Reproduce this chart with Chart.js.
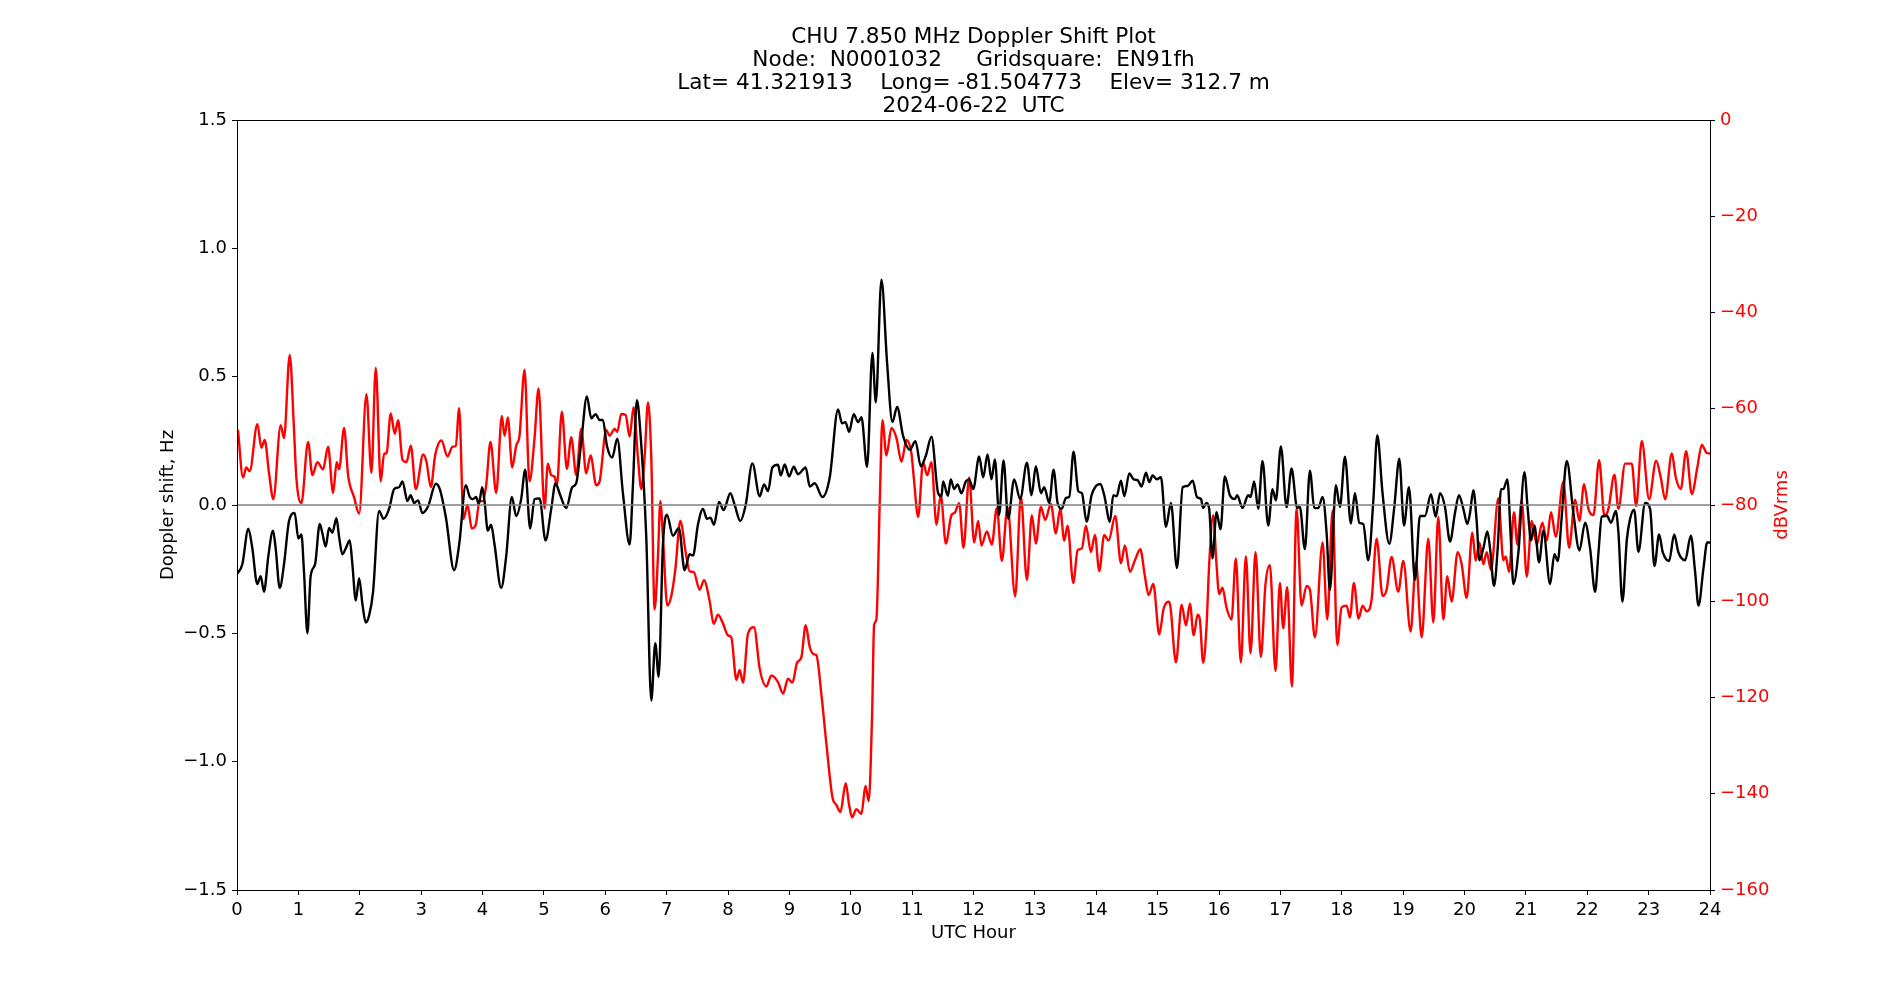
<!DOCTYPE html>
<html>
<head>
<meta charset="utf-8">
<script src="https://cdn.jsdelivr.net/npm/chart.js@4/dist/chart.umd.min.js"></script>
<style>
html,body{margin:0;padding:0;background:#fff;}
#wrap{width:1900px;height:1000px;}
</style>
</head>
<body>
<div id="wrap"><canvas id="c" width="1900" height="1000"></canvas></div>
<script>
const titleLines = [
  'CHU 7.850 MHz Doppler Shift Plot',
  'Node:  N0001032     Gridsquare:  EN91fh',
  'Lat= 41.321913    Long= -81.504773    Elev= 312.7 m',
  '2024-06-22  UTC'
];
const xLabel = 'UTC Hour';
const yLeftLabel = 'Doppler shift, Hz';
const yRightLabel = 'dBVrms';

const dopplerHours = [0.0,0.087,0.185,0.25,0.33,0.386,0.44,0.51,0.587,0.63,0.696,0.766,0.848,0.94,1.0,1.049,1.092,1.147,1.2,1.272,1.348,1.39,1.446,1.5,1.554,1.62,1.663,1.717,1.772,1.837,1.88,1.935,1.99,2.043,2.098,2.152,2.217,2.315,2.386,2.478,2.56,2.64,2.696,2.777,2.83,2.886,2.95,3.02,3.114,3.24,3.304,3.402,3.538,3.62,3.728,3.793,3.842,3.897,3.94,3.995,4.033,4.087,4.14,4.196,4.304,4.386,4.478,4.549,4.63,4.696,4.777,4.848,4.93,5.027,5.12,5.19,5.255,5.364,5.462,5.527,5.609,5.701,5.772,5.842,5.908,5.962,6.027,6.114,6.196,6.288,6.397,6.451,6.516,6.57,6.668,6.75,6.815,6.87,6.94,7.005,7.103,7.2,7.293,7.375,7.43,7.51,7.592,7.658,7.712,7.772,7.853,7.929,8.038,8.109,8.2,8.288,8.397,8.516,8.587,8.652,8.723,8.815,8.859,8.924,8.995,9.071,9.141,9.266,9.332,9.413,9.538,9.658,9.793,9.859,9.913,9.973,10.049,10.12,10.174,10.266,10.353,10.408,10.5,10.592,10.679,10.755,10.853,10.962,11.054,11.141,11.223,11.315,11.424,11.478,11.505,11.582,11.63,11.685,11.739,11.804,11.875,11.929,11.995,12.092,12.158,12.228,12.293,12.348,12.418,12.489,12.565,12.663,12.761,12.87,12.946,13.016,13.098,13.152,13.234,13.304,13.37,13.44,13.505,13.56,13.63,13.707,13.766,13.842,13.924,13.995,14.065,14.13,14.223,14.277,14.332,14.402,14.457,14.538,14.609,14.674,14.739,14.81,14.864,14.918,14.989,15.054,15.136,15.217,15.315,15.408,15.489,15.571,15.641,15.707,15.742,15.796,15.84,15.894,15.959,16.024,16.095,16.177,16.258,16.296,16.383,16.476,16.514,16.573,16.639,16.709,16.802,16.872,16.927,17.008,17.101,17.182,17.274,17.318,17.399,17.481,17.552,17.617,17.688,17.753,17.807,17.905,17.97,18.052,18.149,18.215,18.285,18.35,18.432,18.514,18.579,18.666,18.774,18.856,18.938,19.014,19.095,19.193,19.274,19.356,19.454,19.53,19.601,19.682,19.764,19.845,19.91,19.981,20.046,20.09,20.144,20.198,20.242,20.307,20.372,20.416,20.481,20.541,20.595,20.633,20.698,20.753,20.796,20.878,20.976,21.03,21.084,21.139,21.215,21.285,21.394,21.465,21.519,21.584,21.666,21.774,21.872,21.965,22.046,22.128,22.183,22.236,22.318,22.389,22.465,22.508,22.573,22.644,22.698,22.764,22.834,22.943,23.024,23.095,23.171,23.231,23.334,23.416,23.486,23.595,23.688,23.758,23.812,23.894,23.954,24.0];
const dopplerHz = [-0.269,-0.231,-0.092,-0.169,-0.308,-0.277,-0.338,-0.2,-0.1,-0.169,-0.323,-0.231,-0.062,-0.031,-0.131,-0.115,-0.262,-0.5,-0.277,-0.231,-0.074,-0.108,-0.162,-0.089,-0.108,-0.051,-0.123,-0.192,-0.169,-0.138,-0.231,-0.372,-0.285,-0.385,-0.458,-0.431,-0.338,-0.023,-0.054,-0.015,0.062,0.069,0.092,0.015,0.038,0.008,0.018,-0.031,-0.005,0.083,0.062,-0.046,-0.254,-0.154,0.077,0.031,0.023,0.031,0.003,0.069,0.015,-0.1,-0.077,-0.154,-0.323,-0.2,0.031,-0.043,0.023,0.138,-0.092,0.023,0.026,-0.138,-0.015,0.085,0.046,-0.012,0.069,0.085,0.246,0.423,0.338,0.354,0.331,0.331,0.231,0.185,0.258,0.046,-0.154,0.077,0.408,0.292,-0.123,-0.762,-0.538,-0.669,-0.154,-0.038,-0.12,-0.089,-0.254,-0.192,-0.197,-0.077,-0.015,-0.054,-0.049,-0.077,0.012,-0.02,0.046,0.0,-0.062,0.0,0.162,0.034,0.08,0.054,0.146,0.157,0.115,0.158,0.112,0.149,0.12,0.146,0.072,0.085,0.031,0.108,0.372,0.318,0.323,0.285,0.354,0.323,0.342,0.149,0.592,0.4,0.878,0.554,0.323,0.382,0.269,0.215,0.249,0.151,0.192,0.266,0.046,0.034,0.092,0.036,0.1,0.062,0.08,0.046,0.092,0.1,0.062,0.189,0.108,0.197,0.1,0.177,-0.038,0.174,-0.054,0.1,0.023,0.165,0.038,0.151,0.046,0.069,0.008,0.138,0.008,-0.015,0.028,0.031,0.208,0.054,0.046,-0.065,0.038,0.074,0.082,0.038,-0.065,0.038,0.034,0.095,0.034,0.123,0.1,0.097,0.072,0.126,0.089,0.115,0.1,0.108,-0.085,0.008,-0.246,0.069,0.074,0.095,0.031,0.023,-0.012,0.008,-0.015,-0.208,-0.028,-0.095,0.111,0.038,0.023,0.038,-0.012,0.038,0.031,0.092,-0.015,0.172,-0.08,0.062,0.018,0.228,-0.008,0.142,-0.012,-0.008,-0.172,0.134,-0.011,-0.012,0.031,-0.108,-0.331,0.077,-0.008,0.188,-0.072,0.046,-0.069,-0.074,-0.215,0.015,0.272,0.042,-0.151,-0.008,0.18,-0.08,0.069,-0.292,-0.043,-0.043,0.042,-0.046,0.046,-0.008,-0.142,-0.031,0.038,-0.015,-0.074,-0.031,0.058,-0.062,-0.215,-0.169,-0.103,-0.169,-0.315,-0.169,0.062,0.062,0.1,-0.123,-0.308,-0.185,0.128,-0.015,-0.138,-0.08,-0.223,-0.1,-0.308,-0.192,-0.218,-0.046,0.172,-0.031,-0.177,-0.069,-0.169,-0.338,-0.185,-0.046,-0.042,-0.069,-0.023,-0.108,-0.377,-0.138,-0.054,-0.018,-0.182,0.008,-0.015,-0.238,-0.115,-0.185,-0.218,-0.115,-0.185,-0.215,-0.12,-0.262,-0.392,-0.246,-0.146,-0.146];

const powerHours = [0.016,0.098,0.152,0.207,0.332,0.397,0.451,0.522,0.592,0.712,0.766,0.859,0.929,0.967,1.049,1.158,1.228,1.31,1.402,1.484,1.565,1.625,1.663,1.745,1.81,1.908,1.99,2.109,2.19,2.261,2.342,2.397,2.435,2.505,2.571,2.625,2.696,2.761,2.832,2.913,3.033,3.087,3.158,3.228,3.332,3.429,3.511,3.565,3.62,3.69,3.755,3.826,3.891,3.951,4.005,4.06,4.13,4.223,4.315,4.359,4.413,4.484,4.549,4.603,4.685,4.766,4.848,4.913,5.011,5.065,5.12,5.174,5.212,5.293,5.375,5.446,5.527,5.609,5.69,5.761,5.853,5.908,6.016,6.071,6.152,6.196,6.261,6.332,6.397,6.462,6.533,6.587,6.641,6.696,6.75,6.804,6.859,6.897,6.94,7.011,7.076,7.141,7.223,7.31,7.375,7.44,7.538,7.609,7.701,7.766,7.837,7.918,8.0,8.054,8.136,8.19,8.245,8.326,8.424,8.516,8.625,8.707,8.815,8.897,8.978,9.049,9.125,9.196,9.266,9.332,9.397,9.44,9.522,9.603,9.701,9.766,9.832,9.918,9.973,10.022,10.092,10.174,10.239,10.293,10.348,10.38,10.418,10.473,10.516,10.582,10.663,10.745,10.826,10.908,10.989,11.027,11.098,11.179,11.245,11.315,11.397,11.467,11.549,11.641,11.696,11.766,11.837,11.929,12.011,12.076,12.13,12.217,12.299,12.38,12.462,12.554,12.679,12.772,12.87,12.951,13.016,13.098,13.168,13.261,13.342,13.413,13.478,13.533,13.625,13.696,13.766,13.832,13.913,13.978,14.049,14.13,14.201,14.31,14.402,14.467,14.549,14.63,14.717,14.793,14.853,14.929,15.027,15.098,15.19,15.299,15.391,15.462,15.527,15.587,15.652,15.688,15.742,15.796,15.84,15.905,15.959,16.003,16.057,16.122,16.204,16.274,16.356,16.438,16.514,16.595,16.682,16.758,16.829,16.921,16.992,17.046,17.111,17.188,17.264,17.345,17.427,17.481,17.563,17.688,17.764,17.851,17.927,17.997,18.079,18.133,18.198,18.274,18.34,18.405,18.486,18.568,18.666,18.731,18.812,18.921,19.003,19.122,19.209,19.302,19.41,19.492,19.573,19.655,19.72,19.79,19.889,19.954,20.035,20.128,20.182,20.242,20.307,20.361,20.432,20.552,20.633,20.671,20.726,20.807,20.861,20.932,21.014,21.095,21.177,21.269,21.34,21.41,21.486,21.611,21.704,21.802,21.872,21.948,22.019,22.101,22.193,22.28,22.345,22.443,22.508,22.617,22.726,22.796,22.889,23.008,23.122,23.198,23.269,23.378,23.443,23.524,23.611,23.704,23.796,23.867,23.948,24.0];
const powerDb = [-64.4,-74.3,-72.2,-73.0,-63.2,-68.1,-66.5,-73.4,-78.8,-63.4,-66.1,-48.8,-64.4,-74.3,-79.6,-66.9,-73.8,-71.1,-72.6,-67.9,-77.5,-71.1,-72.6,-64.0,-73.8,-78.4,-81.8,-57.0,-73.3,-51.5,-75.1,-69.3,-69.3,-61.0,-65.2,-62.4,-70.6,-71.1,-67.7,-76.7,-69.5,-71.0,-76.3,-69.7,-66.6,-69.9,-67.9,-67.7,-59.9,-82.9,-80.0,-84.9,-84.1,-79.2,-79.2,-75.9,-66.9,-77.5,-61.5,-65.6,-61.8,-72.2,-67.7,-65.6,-51.9,-75.1,-66.1,-55.8,-80.7,-71.4,-73.8,-74.1,-75.9,-60.6,-72.5,-65.9,-73.8,-64.2,-73.4,-69.7,-75.9,-75.1,-64.4,-65.6,-64.2,-64.8,-61.1,-61.3,-65.8,-59.7,-70.2,-76.7,-70.2,-58.7,-70.2,-101.7,-90.7,-79.2,-86.6,-100.9,-98.9,-93.5,-83.3,-89.8,-93.8,-93.9,-97.6,-95.6,-100.0,-104.7,-102.8,-104.6,-107.1,-107.5,-116.3,-114.3,-116.9,-106.7,-105.4,-114.0,-117.7,-115.4,-116.8,-119.2,-116.1,-116.9,-112.8,-111.6,-105.0,-109.5,-111.0,-111.2,-119.4,-129.6,-140.7,-142.3,-143.8,-137.8,-142.3,-144.9,-143.2,-144.2,-138.4,-141.5,-123.5,-105.0,-103.8,-79.2,-62.4,-69.7,-64.0,-66.1,-71.0,-66.5,-69.3,-74.3,-82.5,-71.1,-73.8,-71.1,-84.1,-77.9,-88.0,-82.1,-81.6,-79.6,-88.9,-74.3,-87.8,-83.3,-88.4,-85.5,-88.2,-80.6,-91.6,-80.4,-99.0,-78.2,-95.6,-82.1,-88.0,-80.4,-83.1,-79.8,-85.9,-80.8,-87.4,-84.3,-96.2,-89.4,-89.0,-84.3,-89.8,-86.2,-93.7,-86.2,-87.4,-82.3,-92.1,-88.4,-93.9,-91.5,-89.2,-94.8,-98.7,-96.4,-106.9,-101.5,-100.1,-112.7,-100.7,-105.0,-100.5,-107.1,-102.8,-103.8,-112.8,-105.4,-92.3,-82.1,-92.3,-98.5,-97.2,-101.3,-103.8,-91.1,-112.7,-90.7,-110.8,-89.8,-111.6,-96.4,-92.5,-114.5,-96.2,-105.6,-97.1,-117.7,-80.8,-100.9,-96.8,-97.6,-107.5,-87.8,-103.8,-81.2,-109.1,-101.3,-100.9,-103.4,-96.2,-103.6,-100.9,-102.1,-99.7,-87.0,-98.9,-97.6,-90.8,-98.0,-91.6,-106.3,-91.9,-107.5,-87.0,-104.4,-82.5,-103.8,-94.8,-100.1,-89.8,-92.3,-99.3,-85.7,-91.6,-87.8,-92.3,-89.8,-93.5,-78.6,-91.5,-90.7,-93.9,-81.5,-88.2,-79.0,-94.9,-83.3,-88.2,-83.7,-87.4,-81.5,-86.6,-75.1,-88.9,-78.9,-83.3,-75.7,-80.8,-82.1,-70.7,-82.3,-80.8,-73.7,-80.8,-71.4,-71.4,-80.2,-66.7,-78.8,-70.8,-74.3,-78.8,-69.3,-74.3,-76.7,-68.8,-77.7,-72.0,-67.5,-69.2,-69.3];

const zeroLine = [{x: 0, y: 0}, {x: 24, y: 0}];

const FONT = '"DejaVu Sans", "Liberation Sans", sans-serif';
const minus = v => String(v).replace('-', '\u2212');

const framePlugin = {
  id: 'frame',
  afterDraw(chart) {
    const {ctx, chartArea: a} = chart;
    ctx.save();
    ctx.strokeStyle = '#000';
    ctx.lineWidth = 1;
    ctx.strokeRect(Math.round(a.left) + 0.5, Math.round(a.top) + 0.5, Math.round(a.right - a.left), Math.round(a.bottom - a.top));
    // right-hand axis label, reading bottom-to-top
    ctx.translate(a.right + 72, (a.top + a.bottom) / 2);
    ctx.rotate(-Math.PI / 2);
    ctx.fillStyle = '#ff0000';
    ctx.font = '18px ' + FONT;
    ctx.textAlign = 'center';
    ctx.textBaseline = 'middle';
    ctx.fillText(yRightLabel, 0, 0);
    ctx.restore();
  }
};

Chart.defaults.font.family = FONT;
Chart.defaults.color = '#000';

new Chart(document.getElementById('c'), {
  type: 'line',
  data: {
    datasets: [
      {
        label: 'zero',
        data: zeroLine,
        yAxisID: 'y',
        borderColor: '#808080',
        borderWidth: 1.3,
        pointRadius: 0,
        fill: false
      },
      {
        label: 'doppler',
        data: dopplerHours.map((h, i) => ({x: h, y: dopplerHz[i]})),
        yAxisID: 'y',
        borderColor: '#000000',
        borderWidth: 2.4,
        pointRadius: 0,
        cubicInterpolationMode: 'monotone',
        fill: false
      },
      {
        label: 'power',
        data: powerHours.map((h, i) => ({x: h, y: powerDb[i]})),
        yAxisID: 'y1',
        borderColor: '#ff0000',
        borderWidth: 2.4,
        pointRadius: 0,
        cubicInterpolationMode: 'monotone',
        fill: false
      }
    ]
  },
  options: {
    responsive: false,
    animation: false,
    devicePixelRatio: 1,
    layout: {padding: 0},
    plugins: {
      legend: {display: false},
      tooltip: {enabled: false},
      title: {
        display: true,
        fullSize: false,
        text: titleLines,
        color: '#000',
        font: {size: 21.6, weight: 'normal', lineHeight: '23px'},
        padding: {top: 26, bottom: 2}
      }
    },
    scales: {
      x: {
        type: 'linear',
        position: 'bottom',
        min: 0, max: 24,
        afterFit: s => { s.height = 110; },
        ticks: {stepSize: 1, autoSkip: false, maxRotation: 0, padding: 5, font: {size: 18}, color: '#000'},
        grid: {display: true, drawOnChartArea: false, drawTicks: true, tickLength: 5, color: '#000'},
        border: {display: true, color: '#000', width: 1},
        title: {display: true, text: xLabel, font: {size: 18}, color: '#000', padding: {top: 0, bottom: 56}}
      },
      y: {
        type: 'linear',
        position: 'left',
        min: -1.5, max: 1.5,
        afterFit: s => { s.width = 237; },
        ticks: {stepSize: 0.5, padding: 5, font: {size: 18}, color: '#000',
          callback: v => minus(v.toFixed(1))},
        grid: {display: true, drawOnChartArea: false, drawTicks: true, tickLength: 5, color: '#000'},
        border: {display: true, color: '#000', width: 1},
        title: {display: true, text: yLeftLabel, font: {size: 18}, color: '#000', padding: {top: 158, bottom: 0}}
      },
      y1: {
        type: 'linear',
        position: 'right',
        min: -160, max: 0,
        afterFit: s => { s.width = 190; },
        ticks: {stepSize: 20, padding: 5, font: {size: 18}, color: '#ff0000',
          callback: v => minus(v.toFixed(0))},
        grid: {display: true, drawOnChartArea: false, drawTicks: true, tickLength: 5, color: '#000'},
        border: {display: true, color: '#000', width: 1}
      }
    }
  },
  plugins: [framePlugin]
});
</script>
</body>
</html>
